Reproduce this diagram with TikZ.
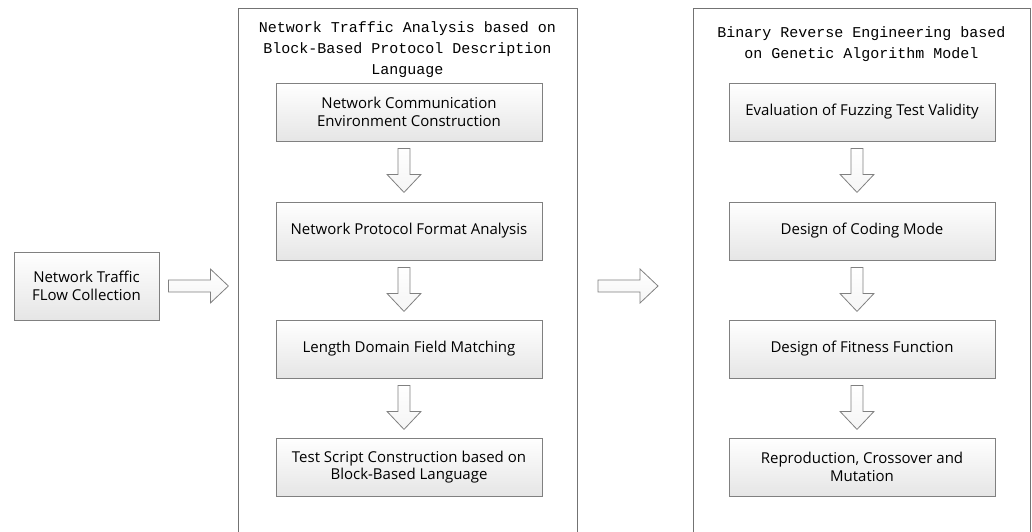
\documentclass[tikz,border=0pt]{standalone}
\usepackage{fontspec}
\setmainfont{Open Sans}
\newfontfamily\titlefont{Liberation Mono}
\usetikzlibrary{calc}
\tikzset{
  stagebox/.style={draw=black!50, line width=0.8pt, top color=white, bottom color=black!10,
    minimum width=266pt, minimum height=58pt, align=center, inner sep=2pt,
    font=\fontsize{15}{17.5}\selectfont},
  frameline/.style={draw=black!55, line width=0.9pt},
  frametitle/.style={align=center, font=\titlefont\fontsize{15}{21}\selectfont, inner sep=0pt},
  arrowline/.style={draw=black!50, line width=0.8pt, top color=white, bottom color=black!4},
  % hollow block arrow starting at the pic origin and pointing along +x
  pics/blockarrow/.style={code={
    \path[arrowline] (0,-6) -- (#1-18,-6) -- (#1-18,-17) -- (#1,0)
      -- (#1-18,17) -- (#1-18,6) -- (0,6) -- cycle;}}
}
\begin{document}
\begin{tikzpicture}[x=1pt,y=-1pt]
\useasboundingbox (0,0) rectangle (1032,531);

% input stage
\node[stagebox, minimum width=145pt, minimum height=68pt] (src) at (86.5,286)
  {Network Traffic\\FLow Collection};
\pic (a0) at ($(src.east)+(9,0)$) {blockarrow=60};

% first frame: traffic analysis
\draw[frameline] (238,545) -- (238,8) -- (577,8) -- (577,545);
\node[frametitle] (t1) at (407.5,50)
  {Network Traffic Analysis based on\\Block-Based Protocol Description\\Language};
\node[stagebox] (p1) at (409,112) {Network Communication\\Environment Construction};
\node[stagebox] (p2) at (409,231) {Network Protocol Format Analysis};
\node[stagebox] (p3) at (409,349) {Length Domain Field Matching};
\node[stagebox] (p4) at (409,467) {Test Script Construction based on\\Block-Based Language};

\foreach \u [count=\i] in {p1,p2,p3}
  \pic[rotate=-90] (pa\i) at ($(\u.south)+(-5,7)$) {blockarrow=44};

\pic (a1) at (598,286) {blockarrow=60};

% second frame: reverse engineering
\draw[frameline] (693,545) -- (693,8) -- (1030,8) -- (1030,545);
\node[frametitle] (t2) at (861.5,44)
  {Binary Reverse Engineering based\\on Genetic Algorithm Model};
\node[stagebox] (q1) at (862,112) {Evaluation of Fuzzing Test Validity};
\node[stagebox] (q2) at (862,231) {Design of Coding Mode};
\node[stagebox] (q3) at (862,349) {Design of Fitness Function};
\node[stagebox] (q4) at (862,467) {Reproduction, Crossover and\\Mutation};

\foreach \u [count=\i] in {q1,q2,q3}
  \pic[rotate=-90] (qa\i) at ($(\u.south)+(-5,7)$) {blockarrow=44};
\end{tikzpicture}
\end{document}
